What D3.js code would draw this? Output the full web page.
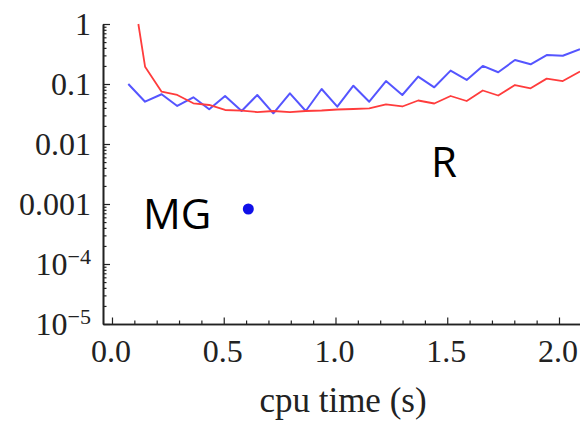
<!DOCTYPE html>
<html>
<head>
<meta charset="utf-8">
<script src="https://cdn.jsdelivr.net/npm/d3@7"></script>
<style>
  html, body { margin: 0; padding: 0; background: #fff; }
  svg { display: block; }
</style>
</head>
<body>
<svg id="chart" width="580" height="422"></svg>
<script>
// Error vs. cpu time for two methods (log scale)
const blueX = [0.073, 0.148, 0.222, 0.292, 0.364, 0.435, 0.506, 0.580, 0.650, 0.722,
               0.796, 0.867, 0.938, 1.008, 1.080, 1.151, 1.226, 1.299, 1.370, 1.442,
               1.515, 1.587, 1.659, 1.728, 1.803, 1.873, 1.945, 2.017, 2.094];
const blueY = [0.100, 0.0507, 0.0674, 0.0430, 0.0600, 0.0379, 0.0631, 0.0355, 0.0656, 0.0325,
               0.0700, 0.0355, 0.0826, 0.0419, 0.0937, 0.0507, 0.112, 0.0656, 0.133, 0.0881,
               0.167, 0.117, 0.200, 0.157, 0.251, 0.213, 0.304, 0.296, 0.379];

const redX = [0.118, 0.148, 0.222, 0.292, 0.364, 0.435, 0.506, 0.580, 0.650, 0.722,
              0.796, 0.867, 0.938, 1.008, 1.080, 1.151, 1.226, 1.299, 1.370, 1.442,
              1.515, 1.587, 1.659, 1.728, 1.803, 1.873, 1.945, 2.017, 2.094];
const redY = [1.0, 0.194, 0.0744, 0.0656, 0.0477, 0.0447, 0.0369, 0.0359, 0.0341, 0.0355,
              0.0341, 0.0355, 0.0362, 0.0376, 0.0383, 0.0391, 0.0459, 0.0422, 0.0531, 0.0473,
              0.0631, 0.0521, 0.0779, 0.0643, 0.0962, 0.0848, 0.123, 0.112, 0.162];

const mgX = [0.61];
const mgY = [0.000825];

const xMajor = [0.0, 0.5, 1.0, 1.5, 2.0];
const xMajorLabels = ["0.0", "0.5", "1.0", "1.5", "2.0"];
const yMajor = [1e-5, 1e-4, 1e-3, 1e-2, 1e-1, 1];
// [mantissa text, exponent text or null]
const yMajorLabels = [["10", "\u22125"], ["10", "\u22124"], ["0.001", null], ["0.01", null], ["0.1", null], ["1", null]];

const xTitle = "cpu time (s)";
const seriesNotes = [{text: "MG", x: 143, y: 229}, {text: "R", x: 431, y: 177}];

const svg = d3.select("#chart");
const m = {left: 103, right: 580, top: 24, bottom: 324};

const x = d3.scaleLinear().domain([-0.0402, 2.094]).range([m.left, m.right]);
const y = d3.scaleLog().domain([1e-5, 1]).range([m.bottom, m.top]);

const serif = "'Liberation Serif', 'Times New Roman', serif";
const axisColor = "#222";

// minor ticks
const xMinor = d3.range(1, 21).map(i => i / 10).filter(v => !xMajor.some(t => Math.abs(t - v) < 1e-9));
const yMinor = [];
for (let e = -5; e < 0; e++) for (let k = 2; k <= 9; k++) yMinor.push(k * Math.pow(10, e));

function styleAxis(g) {
  g.select(".domain").attr("stroke", axisColor).attr("stroke-width", 1.6);
  g.selectAll(".tick line").attr("stroke", axisColor).attr("stroke-width", 1.2);
  g.selectAll(".tick text").remove();
}

// x axis
svg.append("g").attr("transform", `translate(0,${m.bottom})`)
  .call(d3.axisTop(x).tickValues(xMinor).tickSize(3.5).tickSizeOuter(0))
  .call(styleAxis);
svg.append("g").attr("transform", `translate(0,${m.bottom})`)
  .call(d3.axisTop(x).tickValues(xMajor).tickSize(6.5).tickSizeOuter(0))
  .call(styleAxis);

// y axis
svg.append("g").attr("transform", `translate(${m.left},0)`)
  .call(d3.axisRight(y).tickValues(yMinor).tickSize(3.5).tickSizeOuter(0))
  .call(styleAxis);
svg.append("g").attr("transform", `translate(${m.left},0)`)
  .call(d3.axisRight(y).tickValues(yMajor).tickSize(7).tickSizeOuter(0))
  .call(styleAxis);

// x tick labels
svg.append("g").selectAll("text")
  .data(xMajor)
  .join("text")
  .attr("x", d => x(d) - 1)
  .attr("y", m.bottom + 38)
  .attr("text-anchor", "middle")
  .attr("font-family", serif)
  .attr("font-size", 32)
  .attr("fill", axisColor)
  .text((d, i) => xMajorLabels[i]);

// y tick labels
const yl = svg.append("g").selectAll("text")
  .data(yMajor)
  .join("text")
  .attr("x", m.left - 12)
  .attr("y", d => y(d) + 11)
  .attr("text-anchor", "end")
  .attr("font-family", serif)
  .attr("font-size", 32)
  .attr("fill", axisColor);
yl.each(function(d, i) {
  const t = d3.select(this);
  const [mant, ex] = yMajorLabels[i];
  t.append("tspan").text(mant);
  if (ex) t.append("tspan").attr("dy", -11).attr("font-size", 22).text(ex);
});

// axis title
svg.append("text")
  .attr("x", (258 + 428) / 2)
  .attr("y", 412)
  .attr("text-anchor", "middle")
  .attr("font-family", serif)
  .attr("font-size", 35)
  .attr("fill", axisColor)
  .text(xTitle);

// series lines
const plot = svg.append("g");
plot.append("defs").append("clipPath").attr("id", "clip")
  .append("rect").attr("x", m.left).attr("y", 0).attr("width", m.right - m.left).attr("height", m.bottom);
const line = d3.line().x(d => x(d[0])).y(d => y(d[1]));

plot.append("path")
  .datum(blueX.map((v, i) => [v, blueY[i]]))
  .attr("clip-path", "url(#clip)")
  .attr("d", line)
  .attr("fill", "none")
  .attr("stroke", "#5555ff")
  .attr("stroke-width", 2)
  .attr("stroke-linejoin", "round");

plot.append("path")
  .datum(redX.map((v, i) => [v, redY[i]]))
  .attr("clip-path", "url(#clip)")
  .attr("d", line)
  .attr("fill", "none")
  .attr("stroke", "#ff3c3c")
  .attr("stroke-width", 1.8)
  .attr("stroke-linejoin", "round");

// single MG point
plot.selectAll("circle")
  .data(mgX.map((v, i) => [v, mgY[i]]))
  .join("circle")
  .attr("cx", d => x(d[0]))
  .attr("cy", d => y(d[1]))
  .attr("r", 5.5)
  .attr("fill", "#1010e8");

// series annotations
svg.append("g").selectAll("text")
  .data(seriesNotes)
  .join("text")
  .attr("x", d => d.x)
  .attr("y", d => d.y)
  .attr("font-family", "'Open Sans', 'Liberation Sans', sans-serif")
  .attr("font-size", 42)
  .attr("fill", "#000")
  .text(d => d.text);
</script>
</body>
</html>
